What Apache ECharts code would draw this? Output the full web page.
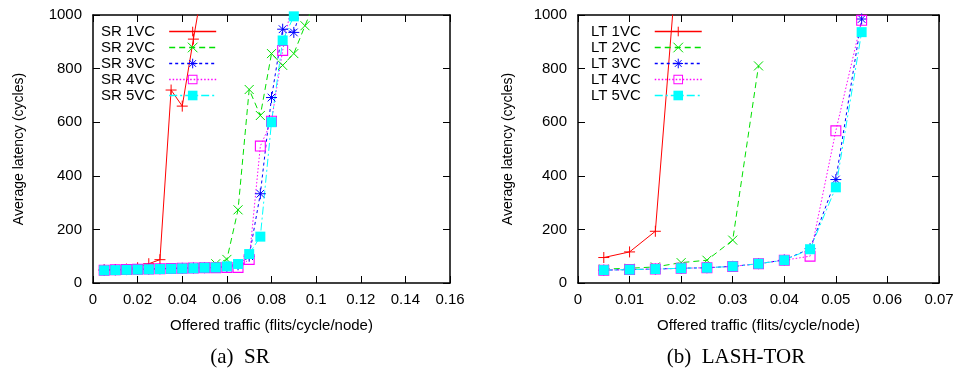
<!DOCTYPE html>
<html>
<head>
<meta charset="utf-8">
<script src="https://cdn.jsdelivr.net/npm/echarts@6/dist/echarts.min.js"></script>
<style>
  html, body { margin: 0; padding: 0; background: #fff; }
  #chart { width: 958px; height: 379px; }
</style>
</head>
<body>
<div id="chart"></div>
<script>
// offered traffic values (flits/cycle/node)
const srX = [0.005, 0.01, 0.015, 0.02, 0.025, 0.03, 0.035, 0.04, 0.045, 0.05,
             0.055, 0.06, 0.065, 0.07, 0.075, 0.08, 0.085, 0.09, 0.095, 0.1];
const ltX = [0.005, 0.01, 0.015, 0.02, 0.025, 0.03, 0.035, 0.04, 0.045, 0.05, 0.055];

// average latency (cycles), SR
const sr1VC = [49, 50, 52, 57, 72, 87, 720, 660, 910, 1150];
const sr2VC = [49, 50, 51, 52, 53, 54, 55, 56, 58, 60, 72, 88, 273, 722, 625, 856, 812, 856, 960, 1060];
const sr3VC = [48, 49, 50, 51, 52, 53, 54, 55, 56, 57, 58, 60, 68, 100, 333, 692, 947, 935, 1070];
const sr4VC = [48, 49, 50, 51, 52, 53, 54, 55, 56, 57, 57, 58, 58, 88, 511, 604, 868, 1080];
const sr5VC = [47, 48, 49, 50, 51, 52, 53, 54, 55, 57, 58, 62, 71, 108, 173, 600, 905, 995];

// average latency (cycles), LASH-TOR
const lt1VC = [95, 116, 193, 1400];
const lt2VC = [52, 55, 60, 76, 85, 160, 810];
const lt3VC = [48, 50, 52, 55, 57, 62, 72, 86, 128, 386, 985];
const lt4VC = [48, 50, 52, 55, 57, 62, 72, 85, 100, 568, 980];
const lt5VC = [48, 50, 52, 55, 57, 62, 72, 85, 126, 357, 936];

const srNames = ["SR 1VC", "SR 2VC", "SR 3VC", "SR 4VC", "SR 5VC"];
const ltNames = ["LT 1VC", "LT 2VC", "LT 3VC", "LT 4VC", "LT 5VC"];

const FONT = '"Liberation Sans", Arial, sans-serif';
const SERIF = '"Liberation Serif", "Times New Roman", serif';

// gnuplot-like line types 1..5 (plus, cross, star, open square, filled square)
const styles = [
  { color: "#ff0000", dash: "solid", symbol: "path://M0,5L10,5M5,0L5,10", size: 11, border: 1 },
  { color: "#00e000", dash: [6, 4], symbol: "path://M0,0L10,10M10,0L0,10", size: 9, border: 1 },
  { color: "#0000ff", dash: [3, 3], symbol: "path://M0,5L10,5M5,0L5,10M1.5,1.5L8.5,8.5M8.5,1.5L1.5,8.5", size: 11, border: 1 },
  { color: "#ff00ff", dash: [1.5, 2], symbol: "path://M0,0L10,0L10,10L0,10ZM1,1L1,9L9,9L9,1Z", size: 11, border: 0 },
  { color: "#00ffff", dash: [8, 3, 2, 3], symbol: "rect", size: 10, border: 0 },
];

function makeSeries(name, xs, ys, st, axisIdx) {
  return {
    name,
    type: "line",
    xAxisIndex: axisIdx,
    yAxisIndex: axisIdx,
    data: ys.map((y, i) => [xs[i], y]),
    symbol: st.symbol,
    symbolSize: st.size,
    showSymbol: true,
    clip: true,
    animation: false,
    lineStyle: { color: st.color, width: 1, type: st.dash },
    itemStyle: { color: st.color, borderColor: st.color, borderWidth: st.border },
    emphasis: { disabled: true },
  };
}

const srData = [sr1VC, sr2VC, sr3VC, sr4VC, sr5VC];
const ltData = [lt1VC, lt2VC, lt3VC, lt4VC, lt5VC];

const series = [
  ...srData.map((ys, i) => makeSeries(srNames[i], srX, ys, styles[i], 0)),
  ...ltData.map((ys, i) => makeSeries(ltNames[i], ltX, ys, styles[i], 2)),
];

function xAxisDef(grid, pos, max, interval, withLabels) {
  return {
    type: "value",
    gridIndex: grid,
    position: pos,
    min: 0,
    max,
    interval,
    name: withLabels ? "Offered traffic (flits/cycle/node)" : "",
    nameLocation: "middle",
    nameGap: 35,
    nameTextStyle: { fontFamily: FONT, fontSize: 15, color: "#000" },
    axisLine: { onZero: false, lineStyle: { color: "#000", width: 1.5 } },
    axisTick: { inside: true, length: 7, lineStyle: { color: "#000", width: 1 } },
    axisLabel: { show: withLabels, fontFamily: FONT, fontSize: 15, color: "#000", margin: 9 },
    splitLine: { show: false },
  };
}

function yAxisDef(grid, pos, withLabels, gap) {
  return {
    type: "value",
    gridIndex: grid,
    position: pos,
    min: 0,
    max: 1000,
    interval: 200,
    name: withLabels ? "Average latency (cycles)" : "",
    nameLocation: "middle",
    nameGap: gap,
    nameTextStyle: { fontFamily: FONT, fontSize: 14, color: "#000" },
    axisLine: { onZero: false, lineStyle: { color: "#000", width: 1.5 } },
    axisTick: { inside: true, length: 7, lineStyle: { color: "#000", width: 1 } },
    axisLabel: {
      show: withLabels, fontFamily: FONT, fontSize: 15, color: "#000", margin: 11,
      formatter: (v) => String(v),
    },
    splitLine: { show: false },
  };
}

function legendDef(names, left) {
  return {
    data: names,
    left,
    top: 24,
    padding: 0,
    orient: "vertical",
    align: "right",
    itemWidth: 47,
    itemHeight: 12,
    itemGap: 1,
    selectedMode: false,
    itemStyle: { borderWidth: "inherit" },
    lineStyle: { width: 1.3, color: "inherit", type: "inherit" },
    textStyle: { fontFamily: FONT, fontSize: 15, color: "#000", padding: [0, 9, 0, 0] },
  };
}

const chart = echarts.init(document.getElementById("chart"), null, { renderer: "canvas" });
chart.setOption({
  backgroundColor: "#fff",
  animation: false,
  grid: [
    { left: 93, top: 15, width: 357, height: 268 },
    { left: 578, top: 15, width: 361, height: 268 },
  ],
  xAxis: [
    xAxisDef(0, "bottom", 0.16, 0.02, true),
    xAxisDef(0, "top", 0.16, 0.02, false),
    xAxisDef(1, "bottom", 0.07, 0.01, true),
    xAxisDef(1, "top", 0.07, 0.01, false),
  ],
  yAxis: [
    yAxisDef(0, "left", true, 67),
    yAxisDef(0, "right", false, 0),
    yAxisDef(1, "left", true, 63),
    yAxisDef(1, "right", false, 0),
  ],
  legend: [legendDef(srNames, 101), legendDef(ltNames, 591)],
  graphic: [
    {
      type: "text", x: 240, y: 357,
      style: { text: "(a)  SR", fontFamily: SERIF, fontSize: 21, fill: "#000", align: "center", verticalAlign: "middle" },
    },
    {
      type: "text", x: 736, y: 357,
      style: { text: "(b)  LASH-TOR", fontFamily: SERIF, fontSize: 21, fill: "#000", align: "center", verticalAlign: "middle" },
    },
  ],
  series,
});
</script>
</body>
</html>
